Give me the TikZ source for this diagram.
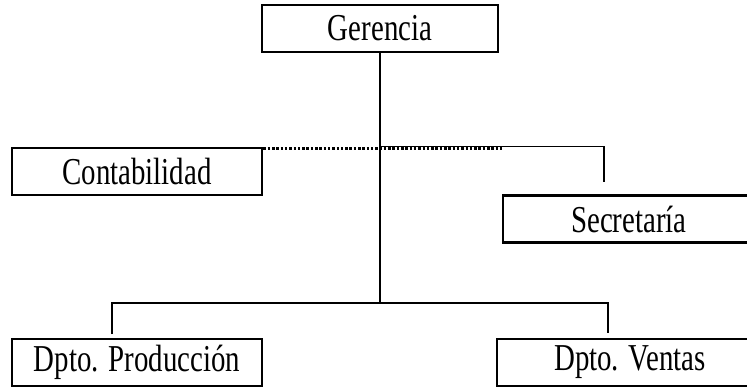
\documentclass[tikz,border=0pt]{standalone}
\usepackage{fontspec}
\usepackage{tikz}
\usetikzlibrary{positioning, calc}

\newfontfamily\orgfont[FakeStretch=0.76]{Liberation Serif}

\begin{document}
\begin{tikzpicture}[
    x=1pt, y=-1pt,
    box/.style={draw, line width=2.8pt, inner sep=0pt, minimum height=47, font=\orgfont\fontsize{38}{42}\selectfont},
    link/.style={line width=1.7pt},
    dots/.style={line width=2.4pt, dash pattern=on 2.5pt off 1.8pt}
]
    \useasboundingbox (0,0) rectangle (747,388);

    \node[box, minimum width=236] (ger) at (380,28.5) {Gerencia};
    \node[box, minimum width=250] (cont) at (137,171.5) {Contabilidad};
    \node[box, minimum width=252] (sec) at (629,219) {Secretaría};
    \node[box, minimum width=250] (prod) at (137,362.5) {Dpto. Producción};
    \node[box, minimum width=266] (vent) at (630,362.5) {Dpto. Ventas};

    \coordinate (staff) at (380,146.5);
    \coordinate (sec stub) at (604,182);
    \coordinate (bus) at (380,303);
    \coordinate (prod stub) at (112,334);
    \coordinate (vent stub) at (608,333);

    % main line down from the top box
    \draw[link] (ger.south) -- (bus);

    % staff branch
    \draw[link] (staff) -| (sec stub);
    \draw[dots] ($(cont.north east)+(0,2)$) -- ($(cont.north east -| sec.west)+(0,2)$);

    % departments
    \draw[link] (prod stub) -- (prod stub |- bus) -- (vent stub |- bus) -- (vent stub);

\end{tikzpicture}
\end{document}
